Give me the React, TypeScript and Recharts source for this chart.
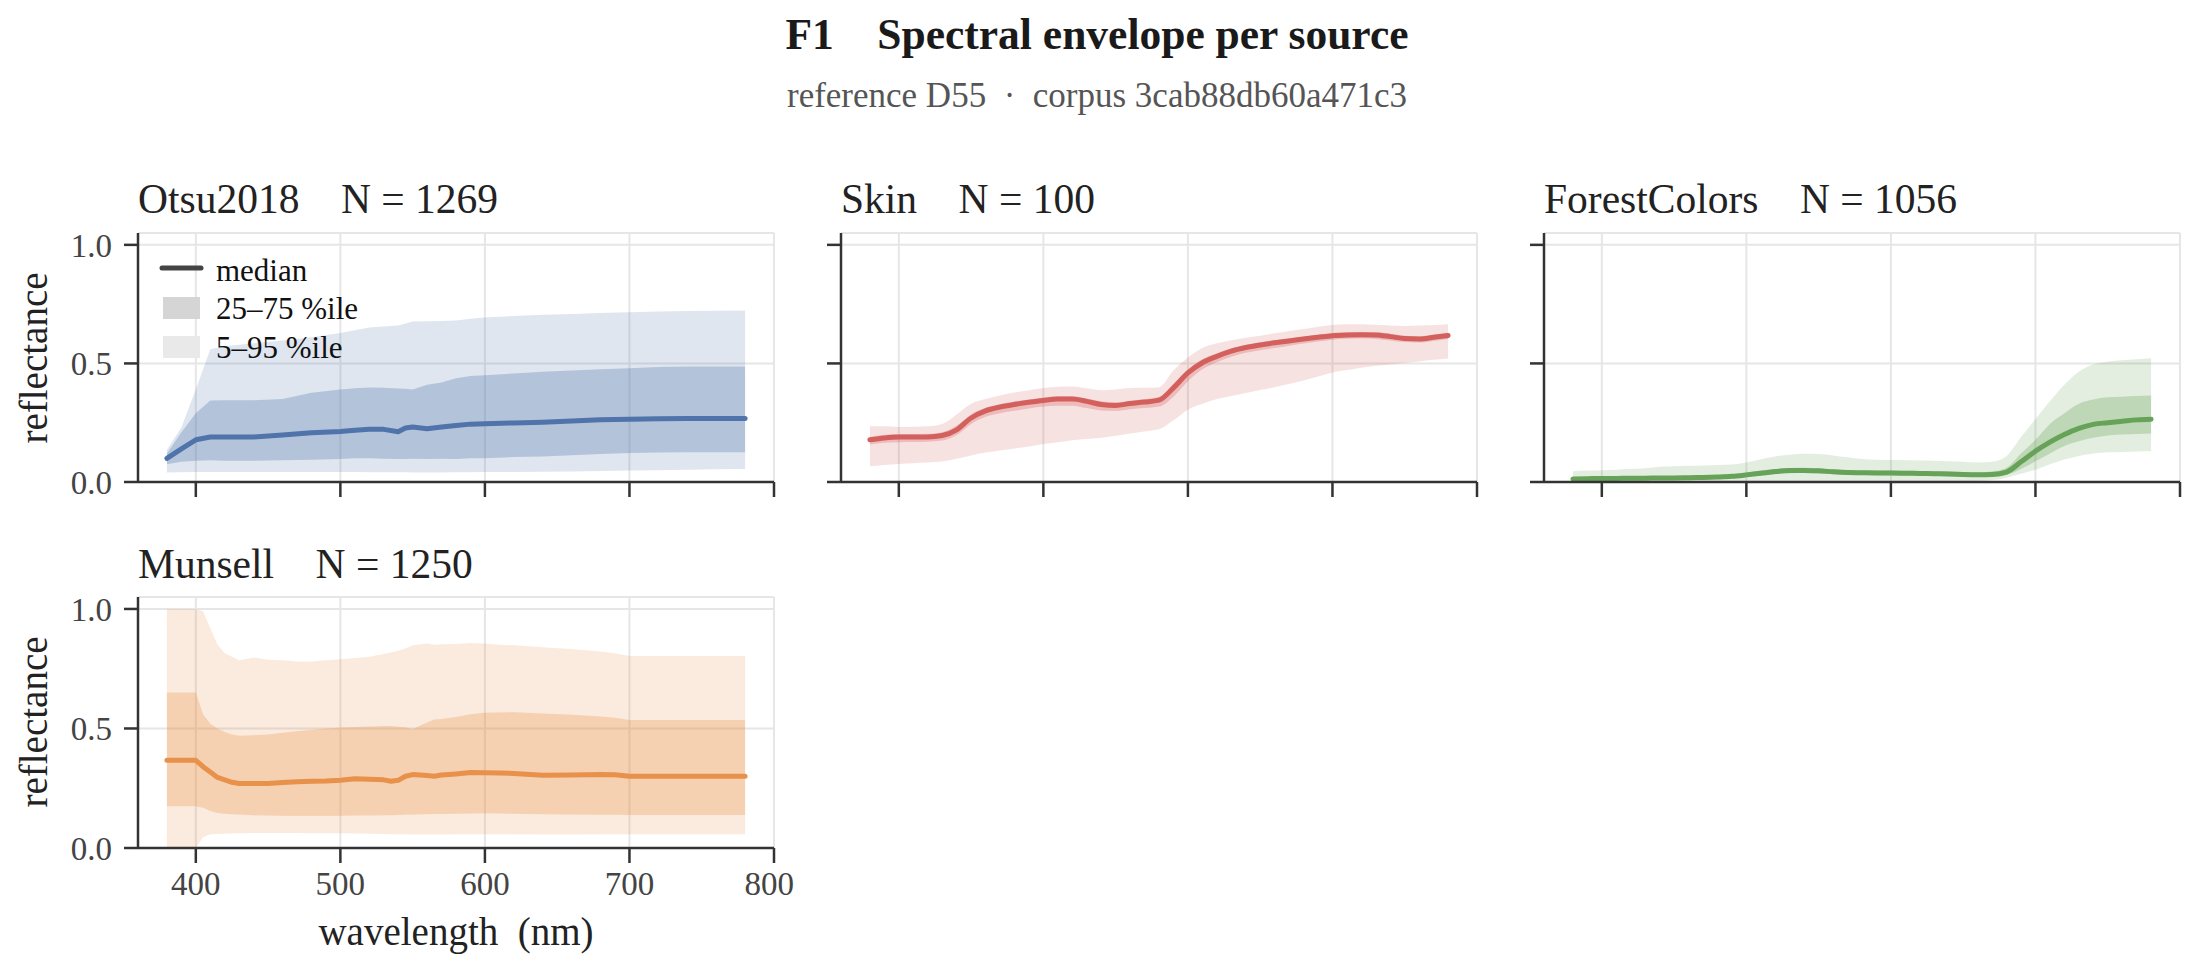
import React from "react";
import {
  ComposedChart,
  Area,
  Line,
  XAxis,
  YAxis,
  CartesianGrid,
} from "recharts";

const FONT = '"Liberation Serif", "Times New Roman", Times, serif';

const X_TICKS = [400, 500, 600, 700, 800];
const Y_TICKS = [0, 0.5, 1.0];

// Otsu2018
const OTSU_WL = [380, 390, 400, 410, 420, 440, 460, 480, 500, 510, 520, 530, 540, 545, 550, 560, 570, 580, 590, 600, 620, 640, 660, 680, 700, 720, 740, 760, 780];
const OTSU_MED = [0.100, 0.140, 0.178, 0.190, 0.190, 0.190, 0.198, 0.208, 0.213, 0.218, 0.222, 0.222, 0.212, 0.228, 0.232, 0.225, 0.232, 0.238, 0.244, 0.246, 0.249, 0.252, 0.257, 0.262, 0.265, 0.267, 0.268, 0.268, 0.268];
const OTSU_Q25 = [0.075, 0.085, 0.090, 0.092, 0.090, 0.090, 0.092, 0.094, 0.097, 0.100, 0.100, 0.098, 0.097, 0.097, 0.098, 0.097, 0.098, 0.097, 0.100, 0.100, 0.105, 0.108, 0.113, 0.118, 0.122, 0.124, 0.125, 0.125, 0.125];
const OTSU_Q75 = [0.120, 0.210, 0.290, 0.344, 0.345, 0.345, 0.350, 0.376, 0.390, 0.395, 0.398, 0.397, 0.394, 0.393, 0.390, 0.410, 0.420, 0.438, 0.447, 0.450, 0.458, 0.465, 0.470, 0.475, 0.480, 0.485, 0.487, 0.487, 0.487];
const OTSU_P05 = [0.040, 0.041, 0.042, 0.042, 0.042, 0.042, 0.042, 0.042, 0.042, 0.042, 0.041, 0.041, 0.041, 0.041, 0.040, 0.040, 0.040, 0.041, 0.041, 0.042, 0.042, 0.043, 0.044, 0.046, 0.048, 0.050, 0.052, 0.054, 0.055];
const OTSU_P95 = [0.136, 0.230, 0.390, 0.560, 0.572, 0.585, 0.597, 0.610, 0.628, 0.640, 0.652, 0.656, 0.660, 0.668, 0.677, 0.678, 0.679, 0.681, 0.688, 0.694, 0.700, 0.705, 0.708, 0.713, 0.716, 0.719, 0.721, 0.722, 0.723];

// Munsell
const MUN_WL = [380, 390, 400, 405, 410, 415, 420, 425, 430, 440, 450, 460, 470, 480, 490, 500, 510, 520, 530, 535, 540, 545, 550, 560, 565, 570, 580, 590, 600, 610, 620, 640, 660, 680, 690, 700, 720, 740, 760, 780];
const MUN_MED = [0.367, 0.367, 0.367, 0.340, 0.318, 0.295, 0.285, 0.275, 0.270, 0.270, 0.270, 0.274, 0.277, 0.279, 0.280, 0.283, 0.290, 0.288, 0.285, 0.279, 0.283, 0.300, 0.307, 0.303, 0.300, 0.305, 0.310, 0.316, 0.315, 0.314, 0.312, 0.304, 0.305, 0.307, 0.306, 0.300, 0.300, 0.300, 0.300, 0.300];
const MUN_Q25 = [0.175, 0.175, 0.175, 0.168, 0.155, 0.146, 0.143, 0.141, 0.140, 0.137, 0.136, 0.135, 0.135, 0.135, 0.135, 0.135, 0.136, 0.136, 0.137, 0.137, 0.138, 0.139, 0.140, 0.141, 0.142, 0.142, 0.143, 0.144, 0.145, 0.144, 0.143, 0.141, 0.140, 0.139, 0.139, 0.138, 0.138, 0.138, 0.138, 0.138];
const MUN_Q75 = [0.650, 0.650, 0.650, 0.560, 0.520, 0.500, 0.485, 0.475, 0.470, 0.472, 0.475, 0.482, 0.488, 0.495, 0.500, 0.504, 0.506, 0.508, 0.510, 0.510, 0.507, 0.505, 0.498, 0.525, 0.538, 0.540, 0.548, 0.560, 0.566, 0.567, 0.568, 0.563, 0.557, 0.550, 0.545, 0.535, 0.535, 0.535, 0.535, 0.535];
const MUN_P05 = [0, 0, 0, 0.045, 0.057, 0.059, 0.060, 0.061, 0.062, 0.063, 0.063, 0.063, 0.063, 0.062, 0.062, 0.062, 0.061, 0.060, 0.059, 0.058, 0.057, 0.057, 0.056, 0.056, 0.056, 0.056, 0.057, 0.058, 0.058, 0.057, 0.057, 0.056, 0.056, 0.057, 0.057, 0.057, 0.057, 0.057, 0.057, 0.057];
const MUN_P95 = [1.0, 1.0, 1.0, 0.990, 0.920, 0.850, 0.815, 0.800, 0.785, 0.797, 0.787, 0.785, 0.780, 0.780, 0.785, 0.790, 0.795, 0.800, 0.812, 0.818, 0.825, 0.835, 0.848, 0.855, 0.850, 0.852, 0.853, 0.858, 0.855, 0.850, 0.848, 0.840, 0.832, 0.822, 0.815, 0.803, 0.803, 0.803, 0.803, 0.803];

// Skin and ForestColors share a 10 nm grid
const GRID_WL = [380, 390, 400, 410, 420, 430, 440, 450, 460, 470, 480, 490, 500, 510, 520, 530, 540, 550, 560, 570, 580, 590, 600, 610, 620, 630, 640, 650, 660, 670, 680, 690, 700, 710, 720, 730, 740, 750, 760, 770, 780];

const SKIN_MED = [0.178, 0.186, 0.190, 0.190, 0.190, 0.196, 0.220, 0.270, 0.300, 0.316, 0.327, 0.336, 0.344, 0.350, 0.350, 0.340, 0.327, 0.323, 0.331, 0.337, 0.345, 0.397, 0.460, 0.503, 0.530, 0.552, 0.567, 0.578, 0.587, 0.595, 0.603, 0.610, 0.617, 0.620, 0.621, 0.620, 0.613, 0.605, 0.603, 0.610, 0.618];
const SKIN_Q25 = [0.158, 0.165, 0.168, 0.169, 0.170, 0.175, 0.197, 0.245, 0.275, 0.290, 0.300, 0.310, 0.318, 0.322, 0.322, 0.312, 0.302, 0.300, 0.307, 0.312, 0.318, 0.360, 0.425, 0.475, 0.505, 0.528, 0.545, 0.556, 0.565, 0.575, 0.584, 0.592, 0.600, 0.604, 0.605, 0.603, 0.597, 0.590, 0.588, 0.595, 0.603];
const SKIN_Q75 = [0.190, 0.198, 0.202, 0.202, 0.203, 0.210, 0.237, 0.285, 0.313, 0.328, 0.339, 0.348, 0.356, 0.362, 0.362, 0.352, 0.340, 0.336, 0.343, 0.349, 0.358, 0.412, 0.475, 0.518, 0.542, 0.563, 0.578, 0.589, 0.598, 0.606, 0.614, 0.621, 0.628, 0.631, 0.632, 0.631, 0.625, 0.617, 0.615, 0.621, 0.629];
const SKIN_P05 = [0.066, 0.072, 0.076, 0.079, 0.082, 0.086, 0.098, 0.112, 0.124, 0.133, 0.141, 0.150, 0.160, 0.168, 0.176, 0.181, 0.187, 0.195, 0.205, 0.213, 0.222, 0.260, 0.305, 0.330, 0.350, 0.363, 0.375, 0.388, 0.400, 0.413, 0.428, 0.445, 0.462, 0.472, 0.482, 0.490, 0.496, 0.502, 0.508, 0.515, 0.521];
const SKIN_P95 = [0.235, 0.235, 0.232, 0.233, 0.235, 0.245, 0.285, 0.330, 0.350, 0.365, 0.377, 0.387, 0.396, 0.402, 0.403, 0.395, 0.387, 0.390, 0.396, 0.397, 0.400, 0.470, 0.525, 0.565, 0.585, 0.598, 0.608, 0.617, 0.627, 0.637, 0.645, 0.655, 0.662, 0.665, 0.665, 0.663, 0.660, 0.658, 0.660, 0.662, 0.665];

const FOREST_MED = [0.013, 0.014, 0.015, 0.015, 0.016, 0.016, 0.017, 0.017, 0.018, 0.019, 0.021, 0.024, 0.030, 0.037, 0.044, 0.048, 0.049, 0.047, 0.043, 0.040, 0.039, 0.038, 0.038, 0.037, 0.036, 0.035, 0.034, 0.032, 0.031, 0.032, 0.042, 0.085, 0.130, 0.168, 0.200, 0.226, 0.243, 0.250, 0.256, 0.262, 0.265];
const FOREST_Q25 = [0.006, 0.007, 0.008, 0.008, 0.009, 0.009, 0.010, 0.010, 0.011, 0.012, 0.013, 0.016, 0.021, 0.027, 0.033, 0.037, 0.038, 0.036, 0.033, 0.030, 0.029, 0.028, 0.028, 0.027, 0.026, 0.025, 0.024, 0.023, 0.022, 0.023, 0.030, 0.055, 0.087, 0.120, 0.152, 0.172, 0.187, 0.196, 0.200, 0.202, 0.204];
const FOREST_Q75 = [0.020, 0.021, 0.022, 0.022, 0.023, 0.023, 0.024, 0.024, 0.025, 0.026, 0.028, 0.032, 0.040, 0.048, 0.055, 0.059, 0.060, 0.058, 0.054, 0.050, 0.049, 0.048, 0.048, 0.047, 0.046, 0.045, 0.044, 0.042, 0.041, 0.044, 0.060, 0.120, 0.178, 0.245, 0.290, 0.330, 0.348, 0.357, 0.360, 0.363, 0.365];
const FOREST_P05 = [0.004, 0.004, 0.004, 0.004, 0.004, 0.004, 0.004, 0.004, 0.004, 0.004, 0.004, 0.004, 0.004, 0.004, 0.004, 0.004, 0.004, 0.004, 0.004, 0.004, 0.004, 0.004, 0.004, 0.004, 0.004, 0.004, 0.004, 0.004, 0.004, 0.008, 0.018, 0.035, 0.052, 0.075, 0.095, 0.110, 0.120, 0.125, 0.127, 0.129, 0.130];
const FOREST_P95 = [0.045, 0.048, 0.050, 0.052, 0.055, 0.058, 0.064, 0.066, 0.068, 0.070, 0.072, 0.074, 0.082, 0.096, 0.108, 0.115, 0.119, 0.118, 0.112, 0.104, 0.097, 0.094, 0.093, 0.092, 0.091, 0.090, 0.088, 0.085, 0.082, 0.085, 0.110, 0.190, 0.265, 0.340, 0.410, 0.465, 0.495, 0.507, 0.513, 0.518, 0.522];

interface Row {
  wl: number;
  med: number;
  iqr: [number, number];
  outer: [number, number];
}

function buildRows(wl: number[], med: number[], q25: number[], q75: number[], p05: number[], p95: number[]): Row[] {
  return wl.map((w, i) => ({
    wl: w,
    med: med[i],
    iqr: [q25[i], q75[i]],
    outer: [p05[i], p95[i]],
  }));
}

const PLOT_W = 636;
const Y_W = 130;
const X_H = 70;
const M_T = 10;
const M_R = 20;
const AXIS = { stroke: "#333333", strokeWidth: 2.5 };

interface PanelProps {
  rows: Row[];
  color: string;
  curve: "linear" | "monotone";
  left: number;
  top: number;
  plotH: number;
  showX: boolean;
  showY: boolean;
}

function Panel({ rows, color, curve, left, top, plotH, showX, showY }: PanelProps) {
  return (
    <div style={{ position: "absolute", left: left - Y_W, top: top - M_T }}>
      <ComposedChart
        width={Y_W + PLOT_W + M_R}
        height={M_T + plotH + X_H}
        data={rows}
        margin={{ top: M_T, right: M_R, bottom: 0, left: 0 }}
      >
        <CartesianGrid stroke="#e6e6e6" strokeWidth={2} />
        <XAxis
          dataKey="wl"
          type="number"
          domain={[360, 800]}
          ticks={X_TICKS}
          allowDataOverflow
          height={X_H}
          tickSize={15}
          tickMargin={9}
          axisLine={AXIS}
          tickLine={AXIS}
          tick={{ fontSize: 33, fill: "#444444", fontFamily: FONT }}
          tickFormatter={(v) => (showX ? String(v) : "")}
        />
        <YAxis
          type="number"
          domain={[0, 1.05]}
          ticks={Y_TICKS}
          allowDataOverflow
          width={Y_W}
          tickSize={14}
          tickMargin={12}
          axisLine={AXIS}
          tickLine={AXIS}
          tick={{ fontSize: 33, fill: "#444444", fontFamily: FONT }}
          tickFormatter={(v) => (showY ? Number(v).toFixed(1) : "")}
        />
        <Area
          dataKey="outer"
          type={curve}
          stroke="none"
          fill={color}
          fillOpacity={0.18}
          isAnimationActive={false}
          dot={false}
          activeDot={false}
        />
        <Area
          dataKey="iqr"
          type={curve}
          stroke="none"
          fill={color}
          fillOpacity={0.3}
          isAnimationActive={false}
          dot={false}
          activeDot={false}
        />
        <Line
          dataKey="med"
          type={curve}
          stroke={color}
          strokeWidth={5}
          strokeLinecap="round"
          strokeLinejoin="round"
          dot={false}
          activeDot={false}
          isAnimationActive={false}
        />
      </ComposedChart>
    </div>
  );
}

const otsuRows = buildRows(OTSU_WL, OTSU_MED, OTSU_Q25, OTSU_Q75, OTSU_P05, OTSU_P95);
const munRows = buildRows(MUN_WL, MUN_MED, MUN_Q25, MUN_Q75, MUN_P05, MUN_P95);
const skinRows = buildRows(GRID_WL, SKIN_MED, SKIN_Q25, SKIN_Q75, SKIN_P05, SKIN_P95);
const forestRows = buildRows(GRID_WL, FOREST_MED, FOREST_Q25, FOREST_Q75, FOREST_P05, FOREST_P95);

export default function App() {
  const pre: React.CSSProperties = { whiteSpace: "pre" };
  return (
    <div style={{ position: "absolute", left: 0, top: 0, width: 2194, height: 972, background: "#ffffff", overflow: "hidden" }}>
      <Panel rows={otsuRows} color="#4f73aa" curve="linear" left={138} top={233} plotH={249} showX={false} showY={true} />
      <Panel rows={skinRows} color="#d3605d" curve="monotone" left={841} top={233} plotH={249} showX={false} showY={false} />
      <Panel rows={forestRows} color="#66a257" curve="monotone" left={1544} top={233} plotH={249} showX={false} showY={false} />
      <Panel rows={munRows} color="#e8914a" curve="linear" left={138} top={597} plotH={251} showX={true} showY={true} />

      <svg width={2194} height={972} style={{ position: "absolute", left: 0, top: 0, pointerEvents: "none" }} fontFamily={FONT}>
        <text x={1097} y={49} textAnchor="middle" fontSize={43.5} fontWeight="bold" fill="#1a1a1a" style={pre}>
          F1    Spectral envelope per source
        </text>
        <text x={1097} y={107} textAnchor="middle" fontSize={35} fill="#555555" style={pre}>
          reference D55  ·  corpus 3cab88db60a471c3
        </text>

        <text x={138} y={213} fontSize={41.5} fill="#222222" style={pre}>Otsu2018    N = 1269</text>
        <text x={841} y={213} fontSize={41.5} fill="#222222" style={pre}>Skin    N = 100</text>
        <text x={1544} y={213} fontSize={41.5} fill="#222222" style={pre}>ForestColors    N = 1056</text>
        <text x={138} y={578} fontSize={41.5} fill="#222222" style={pre}>Munsell    N = 1250</text>

        <text transform="translate(47, 358) rotate(-90)" textAnchor="middle" fontSize={39} fill="#222222">reflectance</text>
        <text transform="translate(47, 722) rotate(-90)" textAnchor="middle" fontSize={39} fill="#222222">reflectance</text>
        <text x={456} y={945} textAnchor="middle" fontSize={39} fill="#222222" style={pre}>wavelength  (nm)</text>

        <line x1={162} y1={268} x2={201} y2={268} stroke="#444444" strokeWidth={5} strokeLinecap="round" />
        <rect x={163} y={297} width={37} height={22} fill="#d5d5d5" />
        <rect x={163} y={336} width={37} height={22} fill="#e9e9e9" />
        <text x={216} y={281} fontSize={31} fill="#111111">median</text>
        <text x={216} y={319} fontSize={31} fill="#111111">25–75 %ile</text>
        <text x={216} y={358} fontSize={31} fill="#111111">5–95 %ile</text>
      </svg>
    </div>
  );
}
